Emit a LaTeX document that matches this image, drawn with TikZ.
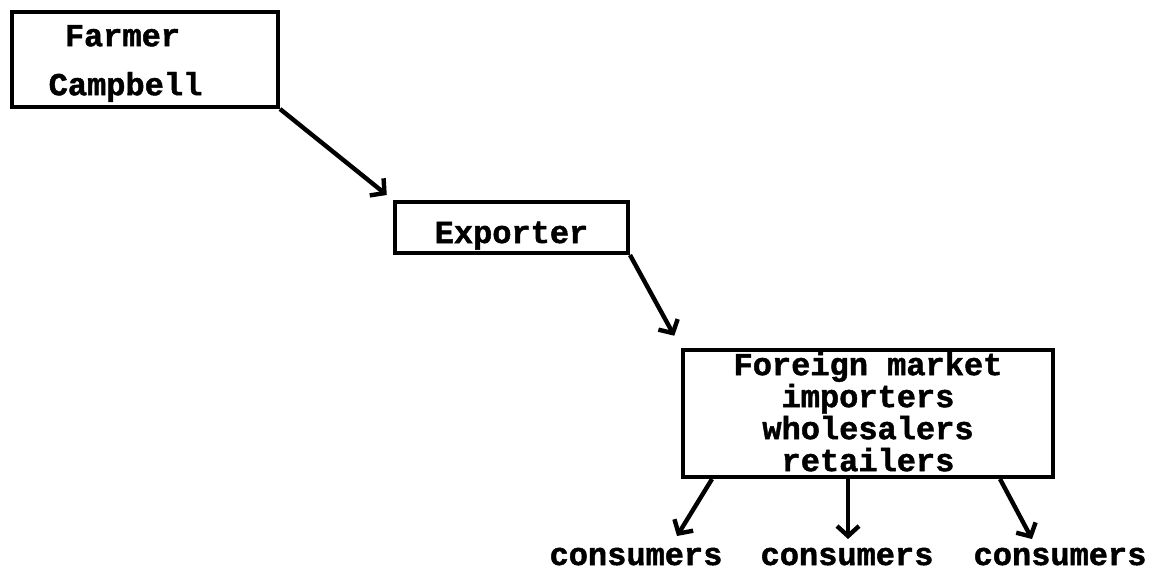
\documentclass[tikz,border=0pt]{standalone}
\usepackage{fontspec}
\setmonofont{Liberation Mono}[BoldFeatures={FakeBold=1.5}]
\usetikzlibrary{arrows.meta}
\usetikzlibrary{calc}

\begin{document}
\begin{tikzpicture}[x=0.5pt,y=-0.5pt,line width=2pt]
\tikzset{box/.style = {draw, rectangle, inner sep=0pt, align=center, font=\ttfamily\bfseries\fontsize{16}{16}\selectfont}}
\tikzset{sink/.style = {anchor=base, inner sep=0pt, text height=7pt, font=\ttfamily\bfseries\fontsize{16}{16}\selectfont}}
\tikzset{edge/.style = {-{Straight Barb[length=5pt,width=11pt]}, line width=2.2pt}}

   \useasboundingbox (0,0) rectangle (1154,574);

   \node[box, minimum width=133pt, minimum height=47.5pt] (farmer) at (145,59.5)
     {\rule{0pt}{14.5pt}Farmer\hspace*{22.5pt}\\[8.5pt]Campbell\hspace*{19.5pt}};
   \node[box, minimum width=116.5pt, minimum height=25.5pt, text height=15.5pt, text depth=0pt] (exporter) at (511.5,227.5) {Exporter};
   \node[box, minimum width=185pt, minimum height=63.5pt] (market) at (868,413.5)
     {Foreign market\\importers\\wholesalers\\retailers\rule[-2pt]{0pt}{2pt}};

   \node[sink] (cons1) at (636,565) {consumers};
   \node[sink] (cons2) at (847,565) {consumers};
   \node[sink] (cons3) at (1060,565) {consumers};

   \draw[edge, shorten >=4pt] (farmer.south east) -- (exporter.north west);
   \draw[edge, shorten >=7pt] (exporter.south east) -- (market.north west);

   \draw[edge] ($(market.south west)+(31,0)$) -- ([xshift=20.5pt,yshift=6.5pt]cons1.north);
   \draw[edge] ($(market.south west)+(167,0)$) -- ([xshift=0.5pt,yshift=5pt]cons2.north);
   \draw[edge] ($(market.south west)+(319,0)$) -- ([xshift=-14pt,yshift=5pt]cons3.north);

\end{tikzpicture}
\end{document}
